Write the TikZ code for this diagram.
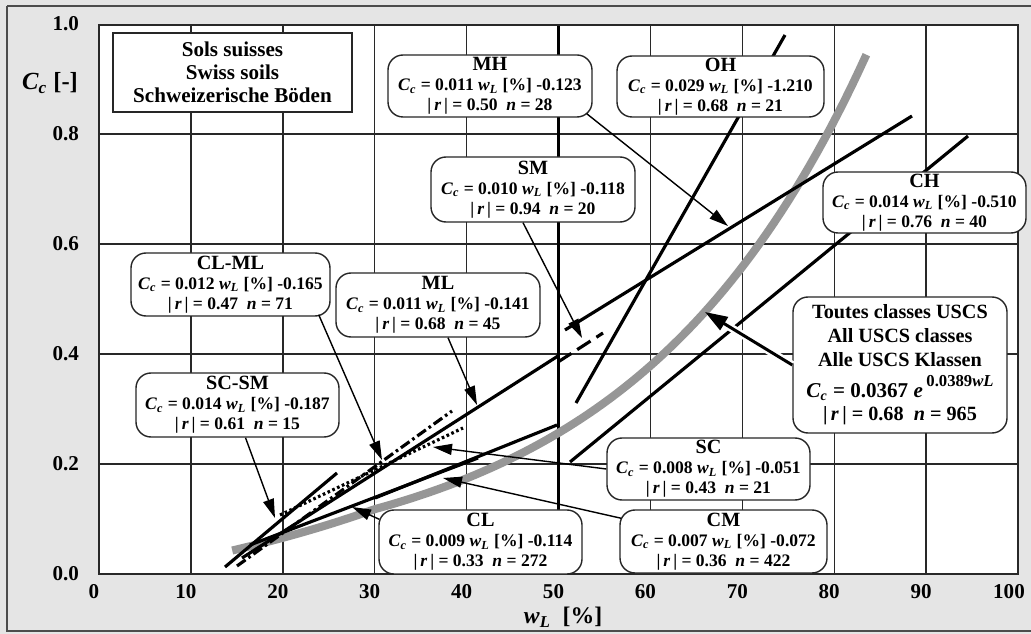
\documentclass[tikz,border=0pt]{standalone}
\usepackage{fontspec}
\setmainfont{Liberation Serif}
\usetikzlibrary{arrows.meta}
\definecolor{bggray}{RGB}{229,229,229}
\definecolor{curvegray}{RGB}{150,150,150}
\definecolor{gridc}{RGB}{40,40,40}
\newcommand{\Cc}{\textit{C}\textsubscript{\textit{c}}}
\newcommand{\wL}{\textit{w}\textsubscript{\textit{L}}}
\newcommand{\rr}{|\,\textit{r}\,|}
\newcommand{\nn}{\textit{n}}
\newcommand{\hd}[1]{{\fontsize{11.5}{11}\selectfont #1}}
\begin{document}
\begin{tikzpicture}[x=0.02cm,y=-0.02cm,
  font=\bfseries\fontsize{10}{11.3}\selectfont,
  lbl/.style={draw=black!85, line width=0.8pt, fill=white, rounded corners=0.3cm, align=center, inner sep=0pt},
  wh/.style 2 args={minimum width=#1*0.02cm, minimum height=#2*0.02cm},
  reg/.style={line width=1.8pt, black},
  arr/.style={draw=black, line width=0.8pt, -{Triangle[length=0.38cm,width=0.22cm]}},
  tick/.style={inner sep=1pt, font=\bfseries\fontsize{12}{12}\selectfont},
  gridline/.style={draw=gridc, line width=0.8pt}]
\useasboundingbox (0,0) rectangle (1031,634);
% background
\fill[bggray] (0,0) rectangle (1040,634);
\draw[black!70, line width=0.8pt] (7,6) -- (1040,6);
\draw[black!70, line width=0.8pt] (7,6) -- (7,631) -- (1040,631);
% plot area
\fill[white] (99,25) rectangle (1018,574);
\foreach \i in {1,...,9} {\draw[gridline] ({99+91.9*\i},25) -- ({99+91.9*\i},574);}
\foreach \j in {1,...,4} {\draw[gridline] (99,{574-110*\j}) -- (1018,{574-110*\j});}
\draw[black, line width=1.7pt] (558.5,25) -- (558.5,574);
\draw[gridc, line width=0.9pt] (99,25) rectangle (1018,574);
% tick labels
\foreach \v [count=\j from 0] in {0.0,0.2,0.4,0.6,0.8,1.0}
  {\node[tick, anchor=east] (yt\j) at (81,{574-110*\j}) {\v};}
\foreach \v [count=\i from 0] in {0,10,20,30,40,50,60,70,80,90}
  {\node[tick] (xt\i) at ({94+91.9*\i},592) {\v};}
\node[tick] (xt10) at (1009,592) {100};
\node (ylab) at (50,83) {\fontsize{14}{14}\selectfont\Cc{} [-]};
\node (xlab) at (563,617) {\fontsize{13.5}{14}\selectfont\wL{}~~[\%]};
% gray curve
\draw[curvegray, line width=4.6pt] plot[domain=14.5:83.5, samples=90]
  ({99+9.19*\x},{574-550*(0.0367*exp(0.0389*\x)-0.0014*max(0,30-\x))});
% regression lines
\draw[reg] (565,330) -- (912,116);   % MH
\draw[reg] (576,403) -- (785,35);    % OH
\draw[reg] (570,462) -- (968,136);   % CH
\draw[reg, dash pattern=on 9pt off 4pt] (558,362) -- (603,333); % SM
\draw[reg] (225,567) -- (337,473);   % SC-SM
\draw[reg, dash pattern=on 6pt off 2pt on 1.5pt off 2pt] (237,566) -- (452,411); % CL-ML
\draw[reg] (242,558) -- (558,356);   % ML
\draw[reg, dash pattern=on 1.5pt off 1.5pt] (280,515) -- (463,428); % SC
\draw[reg] (250,545) -- (478,458);   % CL
\draw[reg] (375,498) -- (557,425);   % CM
% arrow tips
\coordinate (tMH) at (728,226);
\coordinate (tSM) at (582,338);
\coordinate (tCLML) at (382,460);
\coordinate (tSCSM) at (275,518);
\coordinate (tML) at (477,405);
\coordinate (tSC) at (433,447);
\coordinate (tCM) at (443,478);
\coordinate (tCL) at (352,507);
\coordinate (tAll) at (705,312);
% boxes
\node[lbl, wh={239}{79}, rounded corners=0pt, font=\bfseries\fontsize{12}{13}\selectfont] (title) at (232.5,72.5)
  {Sols suisses\\Swiss soils\\Schweizerische Böden};
\node[lbl, wh={204}{62}] (MH) at (490,86) {\hd{MH}\\\Cc{} = 0.011 \wL{} [\%] -0.123\\\rr{} = 0.50~~\nn{} = 28};
\node[lbl, wh={207}{61}] (OH) at (720.5,86.5) {\hd{OH}\\\Cc{} = 0.029 \wL{} [\%] -1.210\\\rr{} = 0.68~~\nn{} = 21};
\node[lbl, wh={204}{65}] (SM) at (533,189.5) {\hd{SM}\\\Cc{} = 0.010 \wL{} [\%] -0.118\\\rr{} = 0.94~~\nn{} = 20};
\node[lbl, wh={203}{61}] (CH) at (924.5,202.5) {\hd{CH}\\\Cc{} = 0.014 \wL{} [\%] -0.510\\\rr{} = 0.76~~\nn{} = 40};
\node[lbl, wh={199}{63}] (CLML) at (230.5,284.5) {\hd{CL-ML}\\\Cc{} = 0.012 \wL{} [\%] -0.165\\\rr{} = 0.47~~\nn{} = 71};
\node[lbl, wh={204}{64}] (ML) at (438,305) {\hd{ML}\\\Cc{} = 0.011 \wL{} [\%] -0.141\\\rr{} = 0.68~~\nn{} = 45};
\node[lbl, wh={203}{64}] (SCSM) at (237.5,405) {\hd{SC-SM}\\\Cc{} = 0.014 \wL{} [\%] -0.187\\\rr{} = 0.61~~\nn{} = 15};
\node[lbl, wh={203}{64}] (CL) at (480.5,542) {\hd{CL}\\\Cc{} = 0.009 \wL{} [\%] -0.114\\\rr{} = 0.33~~\nn{} = 272};
\node[lbl, wh={203}{62}] (SC) at (708.5,469) {\hd{SC}\\\Cc{} = 0.008 \wL{} [\%] -0.051\\\rr{} = 0.43~~\nn{} = 21};
\node[lbl, wh={207}{63}] (CM) at (723.5,541.5) {\hd{CM}\\\Cc{} = 0.007 \wL{} [\%] -0.072\\\rr{} = 0.36~~\nn{} = 422};
\node[lbl, wh={214}{136}, font=\bfseries\fontsize{11.5}{13.5}\selectfont] (All) at (900,365)
  {Toutes classes USCS\\All USCS classes\\Alle USCS Klassen\\[4pt]{\fontsize{12}{13}\selectfont\Cc{} = 0.0367 \textit{e}\,\raisebox{0.5em}{\fontsize{9.5}{10}\selectfont 0.0389\textit{wL}}}\\\rr{} = 0.68~~\nn{} = 965};
% arrows
\draw[arr] ([shift={(-6,-4)}]MH.south east) -- (tMH);
\draw[arr] ([shift={(-10,0)}]SM.south) -- (tSM);
\draw[arr] ([shift={(-12,-2)}]CLML.south east) -- (tCLML);
\draw[arr] ([shift={(8,0)}]SCSM.south) -- (tSCSM);
\draw[arr] ([shift={(10,0)}]ML.south) -- (tML);
\draw[arr] (SC.west) -- (tSC);
\draw[arr] ([shift={(2,9)}]CM.north west) -- (tCM);
\draw[arr] ([shift={(1,10)}]CL.north west) -- (tCL);
\draw[line width=1.7pt, -{Triangle[length=0.45cm,width=0.3cm]}, preaction={draw=white, line width=4.5pt, -, shorten >=10pt}] (All.west) -- (tAll);
\end{tikzpicture}
\end{document}
